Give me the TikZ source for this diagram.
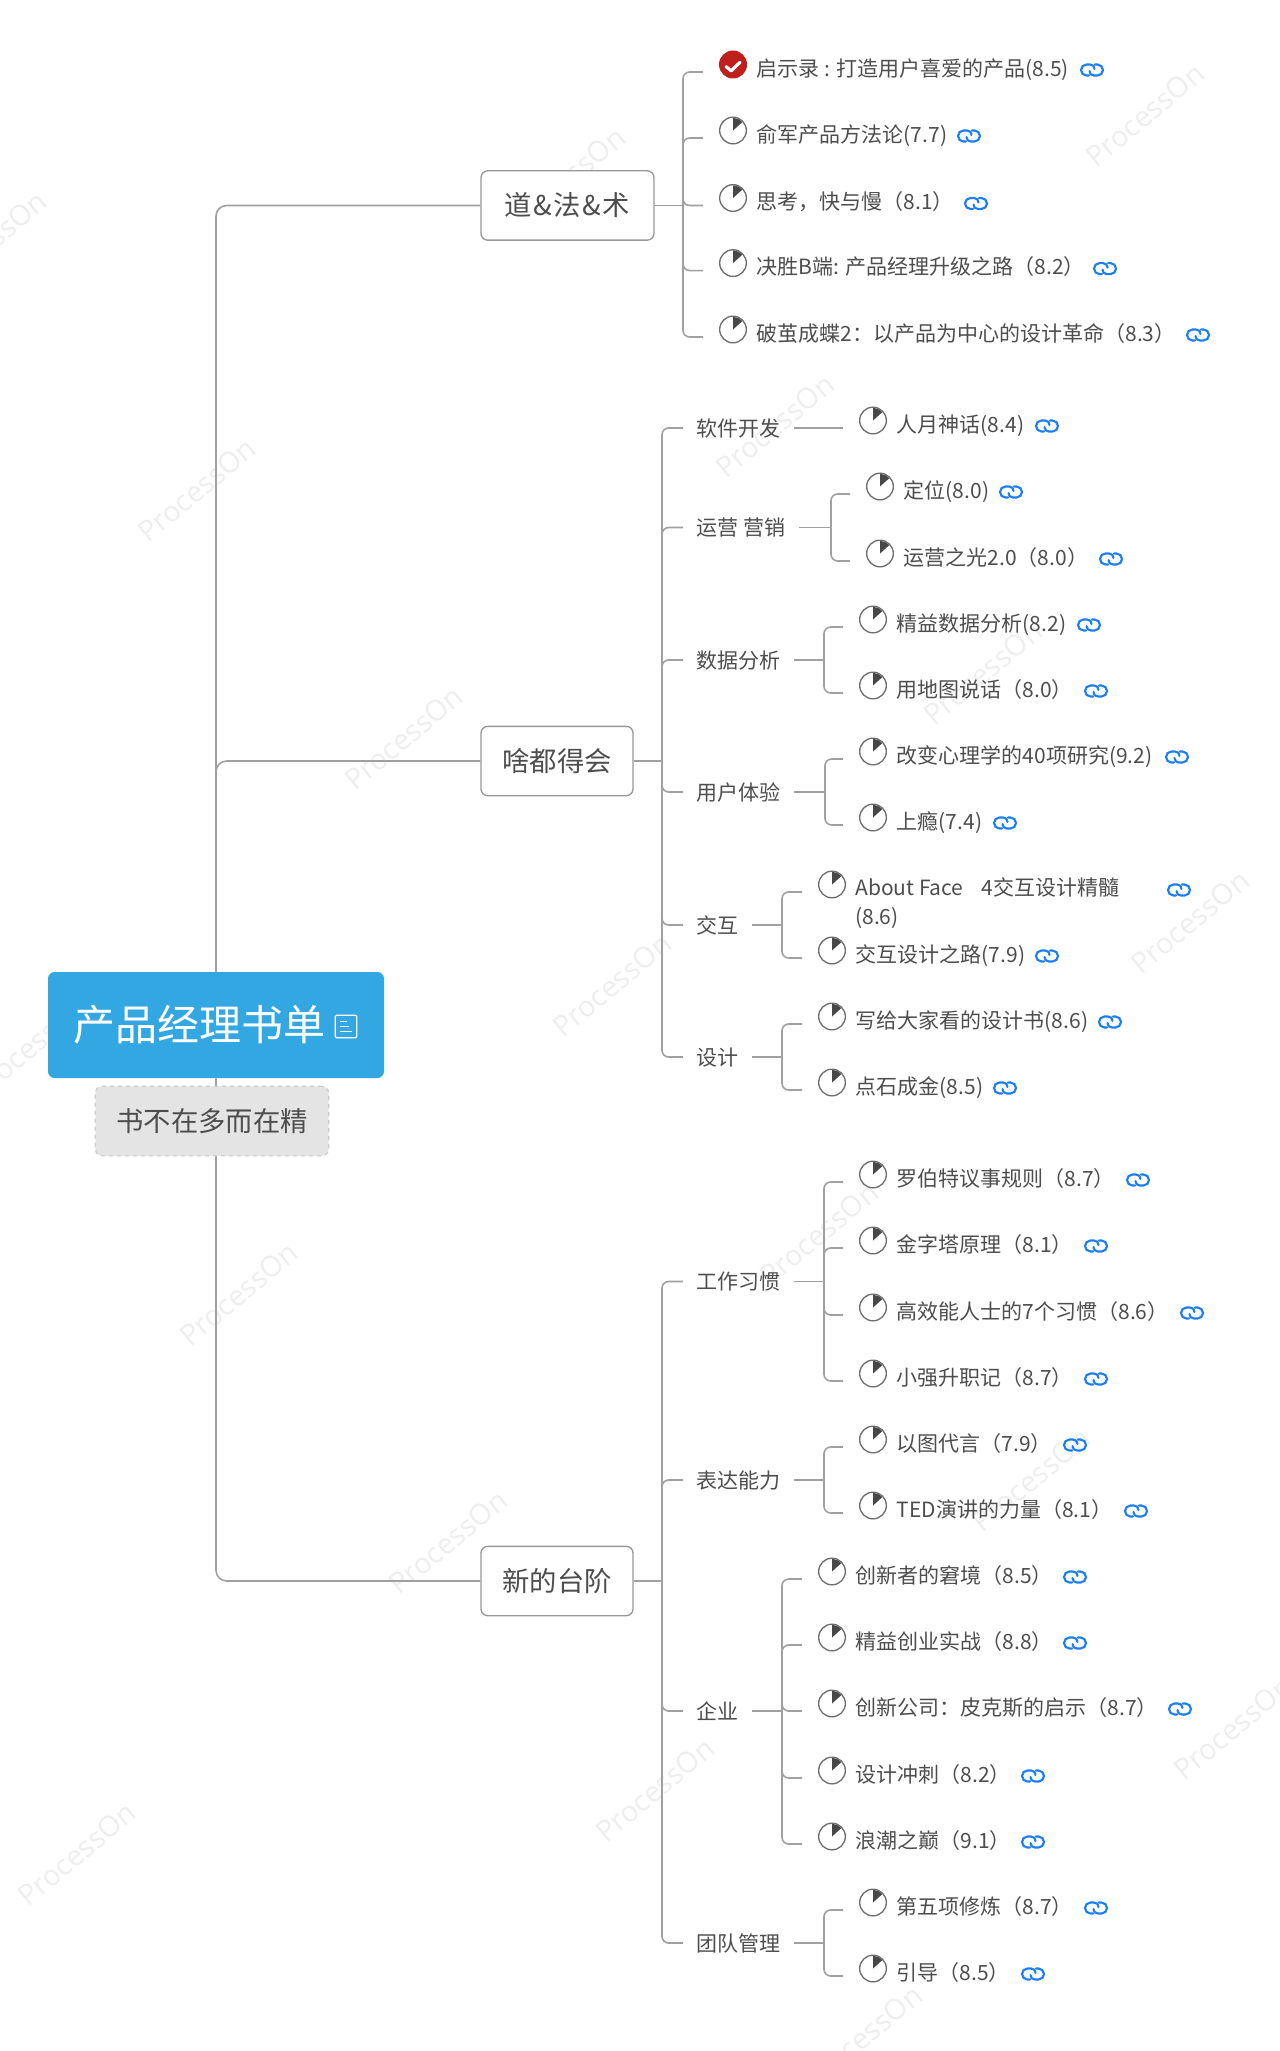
\documentclass[tikz,border=0pt]{standalone}
\usepackage{fontspec}
\setmainfont{Noto Sans CJK SC}
\newfontfamily\wmfont{Open Sans}
\usetikzlibrary{calc}
\definecolor{rootfill}{HTML}{33A7E1}
\definecolor{notefill}{HTML}{E4E4E4}
\definecolor{noteborder}{HTML}{CDCDCD}
\definecolor{boxborder}{HTML}{979797}
\definecolor{linegray}{HTML}{A0A0A0}
\definecolor{darktext}{HTML}{4D4D4D}
\definecolor{wedgegray}{HTML}{474747}
\definecolor{ringgray}{HTML}{6E6E6E}
\definecolor{linkblue}{HTML}{1B7EF2}
\definecolor{donered}{HTML}{C0201C}
\definecolor{wmgray}{HTML}{EEEEEE}
\def\linkshape{
  \begin{scope}[shift={(path picture bounding box.center)}, x=0.75pt, y=0.75pt,
                draw=linkblue, line width=1.6pt, line cap=round]
    \draw (-3,-5.5) -- (-5.5,-5.5) arc[start angle=270, end angle=90, radius=5.5]
          -- (-2,5.5) .. controls (1,5.5) and (2.5,3.5) .. (2.5,1);
    \draw (3,5.5) -- (5.5,5.5) arc[start angle=90, end angle=-90, radius=5.5]
          -- (2,-5.5) .. controls (-1,-5.5) and (-2.5,-3.5) .. (-2.5,-1);
  \end{scope}
}
\tikzset{
  root/.style={rectangle, rounded corners=5pt, fill=rootfill, text=white, inner sep=0pt,
               minimum width=252pt, minimum height=79.5pt, font=\fontsize{31.5}{36}\selectfont},
  notebox/.style={rectangle, rounded corners=5pt, fill=notefill, draw=noteborder, dashed,
                  line width=0.9pt, inner sep=0pt, minimum width=175pt, minimum height=52pt,
                  text=darktext, font=\fontsize{20.5}{24}\selectfont},
  title/.style={rectangle, rounded corners=5pt, fill=white, draw=boxborder, line width=1pt,
                inner sep=0pt, minimum height=52pt, text=darktext,
                font=\fontsize{20.5}{24}\selectfont},
  group/.style={anchor=west, inner xsep=10pt, inner ysep=0pt, text height=15.5pt, text depth=2.8pt,
                text=darktext, font=\fontsize{15.75}{21}\selectfont},
  leaftxt/.style={anchor=west, inner sep=0pt, text height=15.5pt, text depth=2.8pt,
                  text=darktext, font=\fontsize{15.75}{21}\selectfont},
  stat/.style={circle, draw=ringgray, fill=white, line width=1pt, minimum size=20pt, inner sep=0pt,
               path picture={\fill[wedgegray] (path picture bounding box.center) -- +(90:9.5pt)
                 arc[start angle=90, end angle=42, radius=9.5pt] -- cycle;}},
  done/.style={circle, fill=donered, minimum size=21pt, inner sep=0pt,
               path picture={\draw[white, line width=2.4pt, line cap=round, line join=round]
                 ([shift={(-5.2pt,-1.6pt)}]path picture bounding box.center) -- ++(3.8pt,-3.2pt) -- ++(6.6pt,6.4pt);}},
  linkic/.style={rectangle, minimum width=20pt, minimum height=13pt, inner sep=0pt,
                 path picture={\linkshape}},
  noteic/.style={rectangle, rounded corners=1pt, draw=white, line width=0.9pt,
                 minimum width=16pt, minimum height=17pt, inner sep=0pt,
                 path picture={\draw[white, line width=0.9pt]
                   ([shift={(-4.5pt,4pt)}]path picture bounding box.center) -- +(5pt,0)
                   ([shift={(-4.5pt,0pt)}]path picture bounding box.center) -- +(7pt,0)
                   ([shift={(-4.5pt,-4pt)}]path picture bounding box.center) -- +(9pt,0);}},
  branch/.style={draw=linegray, line width=1.2pt, rounded corners=5pt},
  stub/.style={draw=linegray, line width=1.2pt},
  wmark/.style={rotate=39.5, text=wmgray, inner sep=0pt, font=\wmfont\fontsize{21.5}{26}\selectfont},
}
% leaf of the map: status icon, title, link icon, and the end of its connector
\newcommand{\leaf}[6][stat]{
  \node[#1] (#2s) at (#3,#4-7.5) {};
  \node[leaftxt] (#2) at (#3+23.5,#4-4.2) {#5};
  \node[linkic] (#2l) at (#6,#4-2) {};
  \coordinate (#2c) at (#3-30,#4);
}
% stub from a parent to its trunk, then one rounded connector per child
\newcommand{\fan}[3]{
  \coordinate (#1j) at (#2,0 |- #1.east);
  \draw[stub] (#1.east) -- (#1j);
  \foreach \kid in {#3} \draw[branch] (#1j) |- (\kid);
}

\begin{document}
\begin{tikzpicture}[x=0.75pt, y=-0.75pt]
\useasboundingbox (0,0) rectangle (1280,2051);

% Watermarks
\foreach \wx/\wy [count=\wi] in {-12/243, 197/490, 404/738, 612/985, 30/1047, 239/1294, 819/1234,
    566/179, 775/426, 983/673, 1190/922, 1145/115, 77/1854, 448/1542, 655/1790, 863/2037,
    1031/1480, 1233/1728}
  \node[wmark] (wm\wi) at (\wx,\wy) {ProcessOn};

% Root and main branches
\node[root] (root) at (216,1025) {产品经理书单\hspace*{25.5pt}};
\node[noteic] (rootnote) at (346,1026.5) {};
\node[title, minimum width=129.75pt] (dao) at (567.5,205.5) {道\kern1.2pt\&\kern1.2pt法\kern1.2pt\&\kern1.2pt术};
\node[title, minimum width=114pt] (dou) at (557,761) {啥都得会};
\node[title, minimum width=114pt] (xin) at (557,1581) {新的台阶};

\draw[branch, rounded corners=8pt] (root.north) |- (dao.west);
\draw[branch, rounded corners=8pt] (root.north) |- (dou.west);
\draw[branch, rounded corners=8pt] (root.south) |- (xin.west);

\node[notebox] (slogan) at (212,1121) {书不在多而在精};

% First branch
\leaf[done]{qsl}{733}{72}{启示录 : 打造用户喜爱的产品(8.5)}{1092}
\leaf{yujun}{733}{138}{俞军产品方法论(7.7)}{969}
\leaf{sikao}{733}{205.5}{思考，快与慢（8.1）}{976}
\leaf{juesheng}{733}{270.6}{决胜B端: 产品经理升级之路（8.2）}{1105}
\leaf{pojian}{733}{337}{破茧成蝶2：以产品为中心的设计革命（8.3）}{1198}
\fan{dao}{683}{qslc, yujunc, sikaoc, jueshengc, pojianc}

% Second branch
\node[group] (soft) at (683,428) {软件开发};
\node[group] (yunying) at (683,527.5) {运营 营销};
\node[group] (shuju) at (683,660) {数据分析};
\node[group] (tiyan) at (683,792) {用户体验};
\node[group] (jiaohu) at (683,925) {交互};
\node[group] (sheji) at (683,1057) {设计};
\fan{dou}{662}{soft.west, yunying.west, shuju.west, tiyan.west, jiaohu.west, sheji.west}

\leaf{renyue}{873}{428}{人月神话(8.4)}{1047}
\draw[stub] (soft.east) -- (renyuec);

\leaf{dingwei}{880}{494}{定位(8.0)}{1011}
\leaf{guang}{880}{561}{运营之光2.0（8.0）}{1111}
\fan{yunying}{831}{dingweic, guangc}

\leaf{jingyi}{873}{627}{精益数据分析(8.2)}{1089}
\leaf{ditu}{873}{693}{用地图说话（8.0）}{1096}
\fan{shuju}{824}{jingyic, dituc}

\leaf{xinli}{873}{759}{改变心理学的40项研究(9.2)}{1177}
\leaf{shangyin}{873}{825}{上瘾(7.4)}{1005}
\fan{tiyan}{825}{xinlic, shangyinc}

\node[stat] (faces) at (832,884.5) {};
\node[leaftxt, text height=, text depth=, align=left, anchor=north west, font=\fontsize{15.75}{21.75}\selectfont]
  (face) at (855,877.5) {About Face~~\kern6.5pt 4交互设计精髓\\(8.6)};
\node[linkic] (facel) at (1179,890) {};
\coordinate (facec) at (802,892);
\leaf{lu}{832}{958}{交互设计之路(7.9)}{1047}
\fan{jiaohu}{782}{facec, luc}

\leaf{dajia}{832}{1024}{写给大家看的设计书(8.6)}{1110}
\leaf{dianshi}{832}{1090}{点石成金(8.5)}{1005}
\fan{sheji}{782}{dajiac, dianshic}

% Third branch
\node[group] (xiguan) at (683,1281.5) {工作习惯};
\node[group] (biaoda) at (683,1480) {表达能力};
\node[group] (qiye) at (683,1711) {企业};
\node[group] (tuandui) at (683,1943) {团队管理};
\fan{xin}{662}{xiguan.west, biaoda.west, qiye.west, tuandui.west}

\leaf{luobote}{873}{1182}{罗伯特议事规则（8.7）}{1138}
\leaf{jinzita}{873}{1248}{金字塔原理（8.1）}{1096}
\leaf{gaoxiao}{873}{1315}{高效能人士的7个习惯（8.6）}{1192}
\leaf{xiaoqiang}{873}{1381}{小强升职记（8.7）}{1096}
\fan{xiguan}{824}{luobotec, jinzitac, gaoxiaoc, xiaoqiangc}

\leaf{yitu}{873}{1447}{以图代言（7.9）}{1075}
\leaf{ted}{873}{1513}{TED演讲的力量（8.1）}{1136}
\fan{biaoda}{824}{yituc, tedc}

\leaf{kunjing}{832}{1579}{创新者的窘境（8.5）}{1075}
\leaf{chuangye}{832}{1645}{精益创业实战（8.8）}{1075}
\leaf{pixar}{832}{1711}{创新公司：皮克斯的启示（8.7）}{1180}
\leaf{chongci}{832}{1778}{设计冲刺（8.2）}{1033}
\leaf{langchao}{832}{1844}{浪潮之巅（9.1）}{1033}
\fan{qiye}{782}{kunjingc, chuangyec, pixarc, chongcic, langchaoc}

\leaf{diwu}{873}{1910}{第五项修炼（8.7）}{1096}
\leaf{yindao}{873}{1976}{引导（8.5）}{1033}
\fan{tuandui}{824}{diwuc, yindaoc}

\end{tikzpicture}
\end{document}
